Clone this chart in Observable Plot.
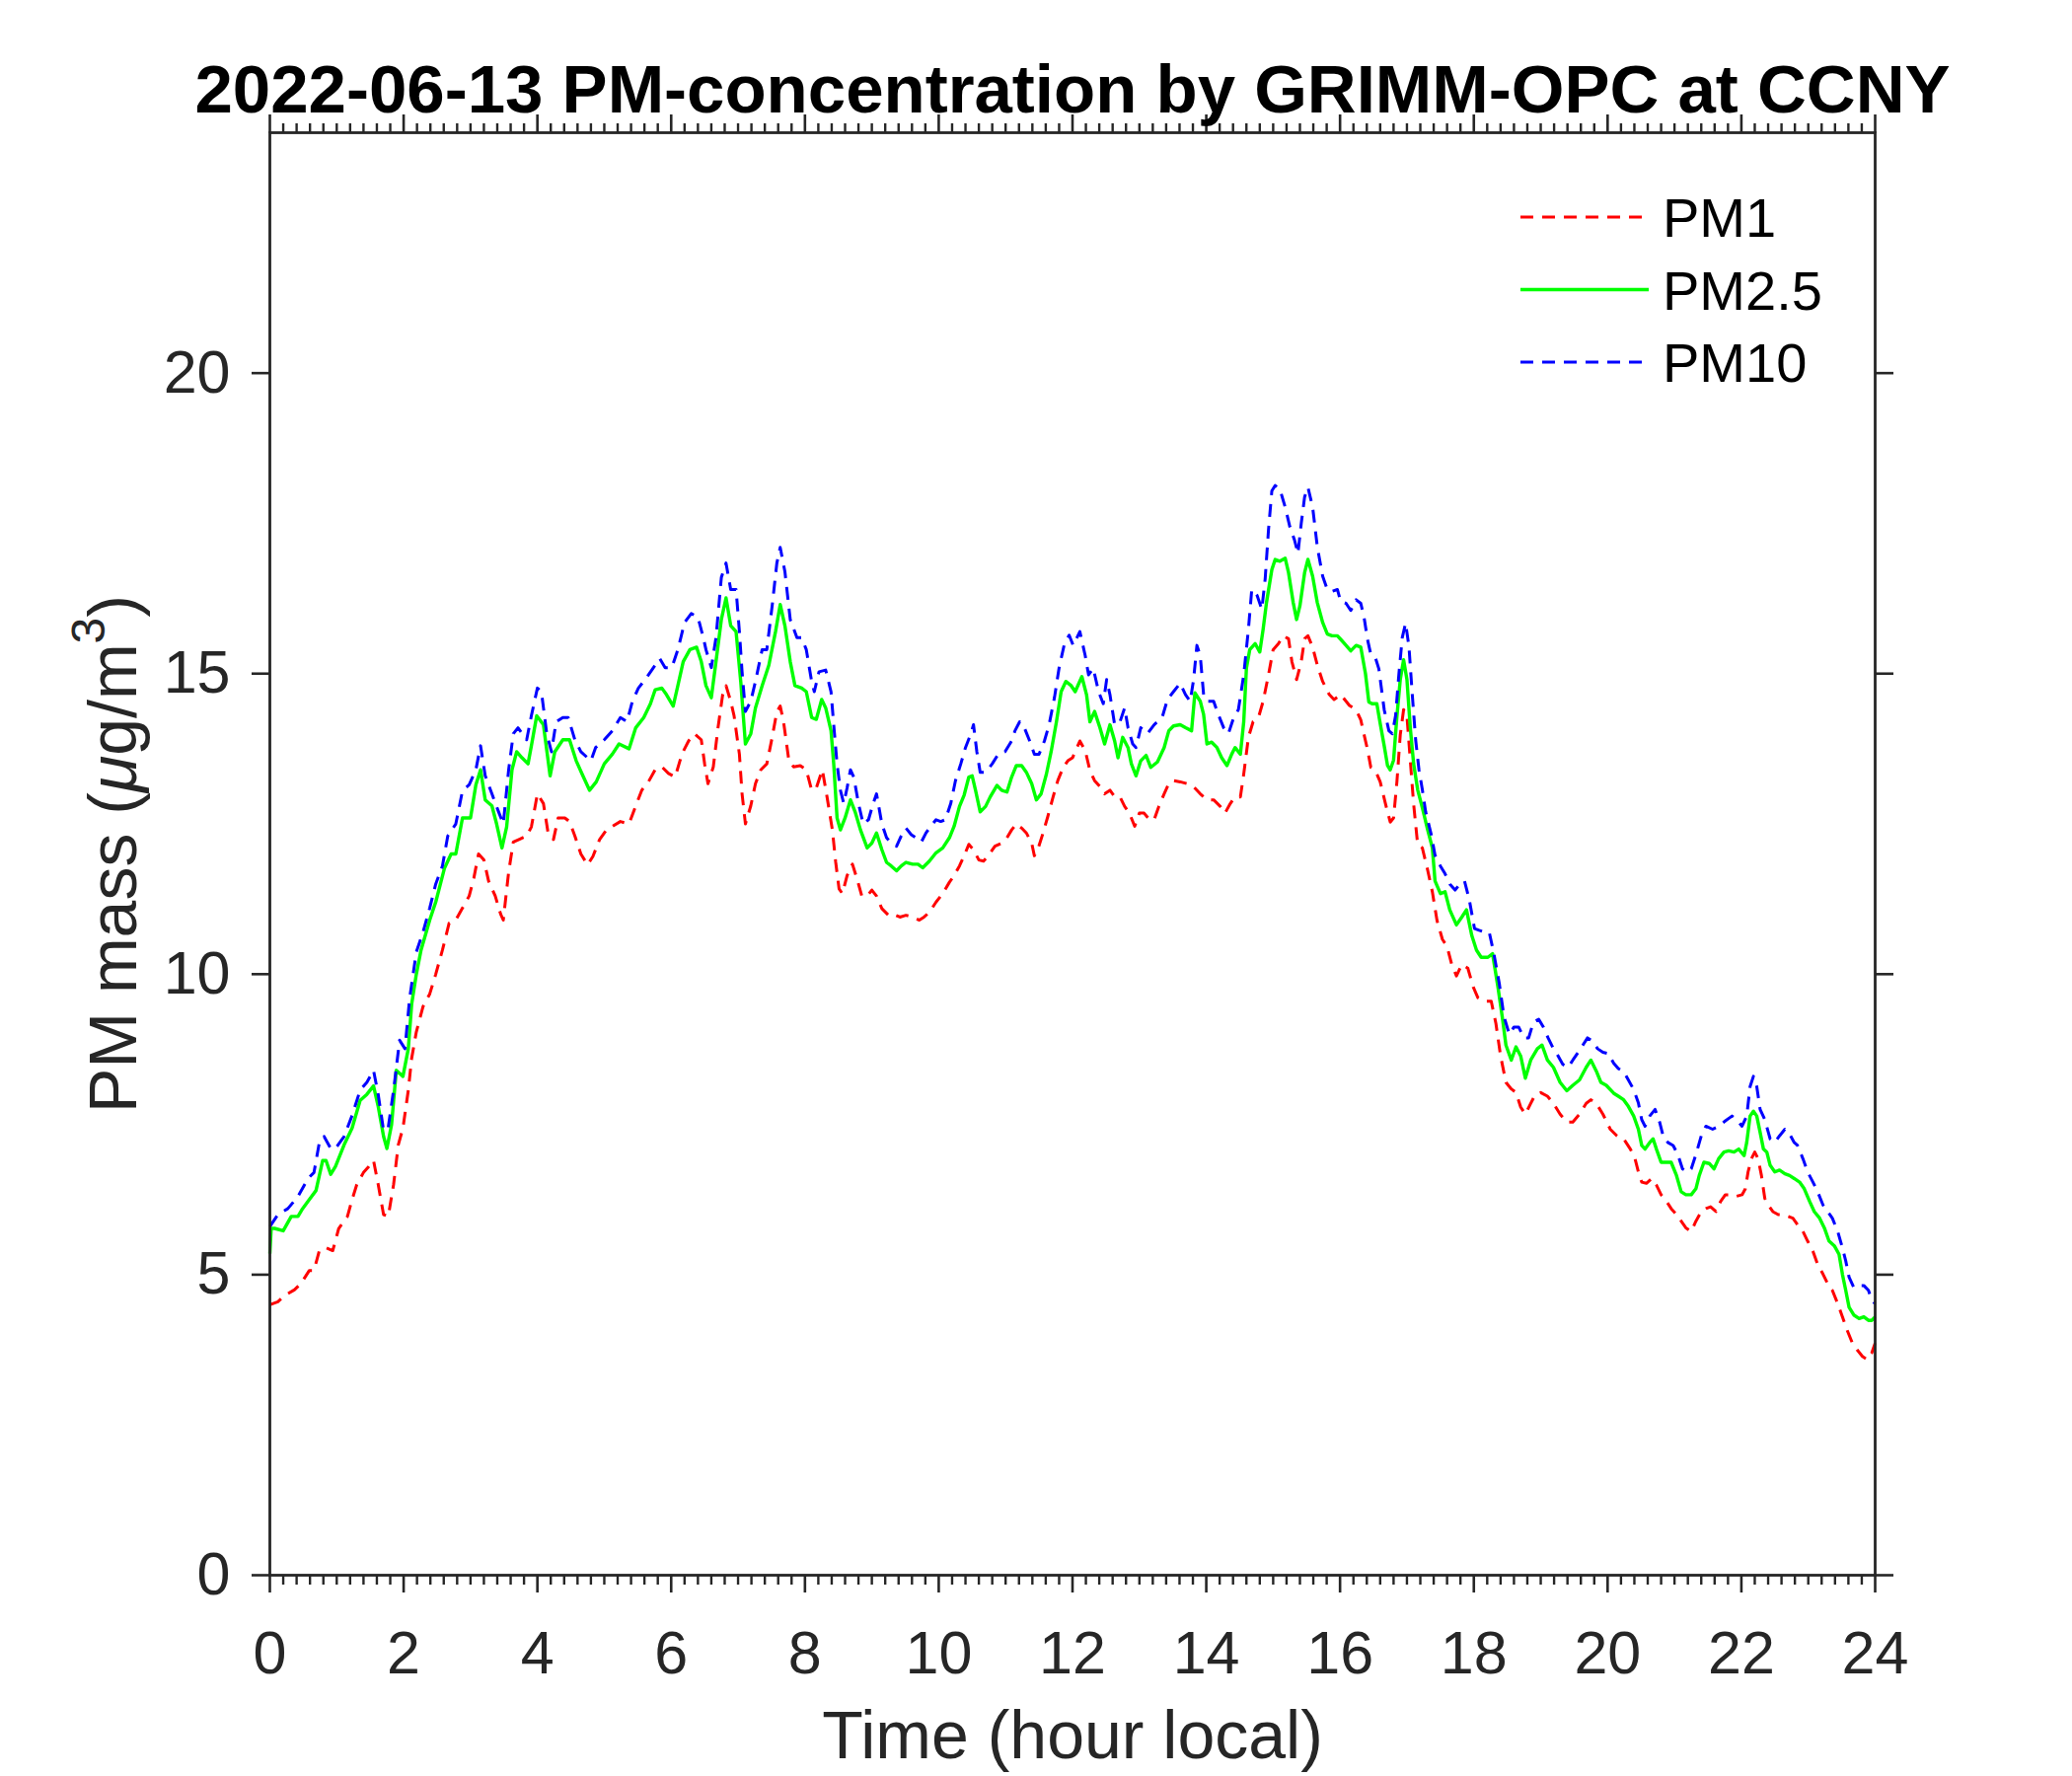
<!DOCTYPE html>
<html>
<head>
<meta charset="utf-8">
<script src="https://cdn.jsdelivr.net/npm/d3@7"></script>
<script src="https://cdn.jsdelivr.net/npm/@observablehq/plot@0.6"></script>
<style>
  html, body { margin: 0; padding: 0; background: #fff; overflow: hidden; }
  #chart svg { display: block; }
</style>
</head>
<body>
<div id="chart"></div>
<script>
// ---------------- data ----------------
const seriesNames = ["PM1", "PM2.5", "PM10"];

const pm1Hours = [0,0.12,0.22,0.37,0.47,0.59,0.66,0.74,0.84,0.94,1.03,1.16,1.23,1.3,1.4,1.48,1.55,1.62,1.7,1.77,1.85,1.92,1.99,2.07,2.12,2.19,2.29,2.39,2.48,2.58,2.68,2.78,2.88,2.98,3.05,3.12,3.2,3.27,3.37,3.45,3.49,3.57,3.64,3.74,3.84,3.91,4.0,4.09,4.16,4.24,4.31,4.41,4.48,4.56,4.65,4.75,4.83,4.93,5.02,5.12,5.24,5.37,5.47,5.56,5.66,5.76,5.86,5.96,6.06,6.16,6.26,6.35,6.45,6.5,6.55,6.63,6.7,6.77,6.82,6.89,6.94,7.02,7.06,7.11,7.19,7.26,7.34,7.43,7.51,7.58,7.63,7.68,7.76,7.83,7.93,8.02,8.1,8.17,8.26,8.33,8.41,8.46,8.51,8.56,8.63,8.71,8.78,8.85,8.93,9.0,9.07,9.15,9.25,9.32,9.42,9.51,9.61,9.71,9.78,9.86,9.96,10.06,10.16,10.23,10.31,10.38,10.45,10.52,10.6,10.67,10.74,10.84,10.94,11.02,11.09,11.16,11.24,11.31,11.39,11.43,11.48,11.56,11.63,11.71,11.78,11.86,11.93,12.0,12.11,12.19,12.26,12.33,12.41,12.48,12.56,12.63,12.71,12.78,12.85,12.93,13.0,13.07,13.15,13.22,13.29,13.37,13.44,13.51,13.61,13.71,13.81,13.91,14.01,14.11,14.21,14.28,14.36,14.43,14.51,14.56,14.63,14.7,14.78,14.85,14.93,15.0,15.08,15.15,15.23,15.28,15.35,15.42,15.47,15.52,15.59,15.66,15.74,15.84,15.91,16.01,16.14,16.24,16.31,16.36,16.41,16.46,16.53,16.6,16.68,16.75,16.8,16.85,16.9,16.95,17.0,17.05,17.1,17.16,17.23,17.31,17.38,17.45,17.53,17.6,17.67,17.74,17.82,17.91,17.99,18.06,18.16,18.26,18.33,18.4,18.48,18.56,18.63,18.7,18.77,18.85,18.92,19.0,19.1,19.19,19.29,19.39,19.48,19.58,19.68,19.75,19.83,19.93,20.04,20.14,20.24,20.34,20.41,20.46,20.51,20.58,20.66,20.73,20.8,20.88,20.95,21.03,21.1,21.17,21.25,21.32,21.4,21.47,21.54,21.62,21.69,21.76,21.84,21.91,22.01,22.06,22.1,22.15,22.2,22.25,22.3,22.35,22.4,22.47,22.55,22.62,22.7,22.77,22.84,22.92,22.99,23.07,23.14,23.22,23.29,23.36,23.44,23.51,23.58,23.66,23.73,23.81,23.88,23.95,24.0];
const pm1Values = [4.5,4.55,4.65,4.75,4.86,5.07,5.07,5.4,5.45,5.4,5.77,5.97,6.25,6.5,6.7,6.8,6.9,6.5,6.0,5.97,6.5,7.16,7.44,8.07,8.6,9.04,9.46,9.67,10.0,10.4,10.85,10.9,11.1,11.3,11.6,12.0,11.9,11.55,11.3,11.0,10.9,11.7,12.2,12.25,12.3,12.45,13.0,12.84,12.35,12.24,12.6,12.6,12.54,12.3,12.0,11.82,11.96,12.24,12.38,12.46,12.54,12.5,12.8,13.06,13.2,13.4,13.45,13.34,13.28,13.66,13.88,14.0,13.9,13.5,13.17,13.45,14.1,14.65,14.8,14.54,14.3,13.66,13.0,12.5,12.8,13.17,13.4,13.5,13.94,14.37,14.46,14.2,13.55,13.45,13.47,13.4,13.06,13.1,13.4,12.95,12.4,11.86,11.42,11.34,11.64,11.83,11.58,11.3,11.3,11.4,11.3,11.09,10.98,11.0,10.95,10.98,10.95,10.9,10.95,11.03,11.2,11.34,11.53,11.64,11.8,11.97,12.16,12.07,11.9,11.88,11.97,12.13,12.18,12.27,12.4,12.5,12.43,12.35,12.18,11.97,12.07,12.35,12.62,12.95,13.22,13.44,13.55,13.6,13.88,13.72,13.39,13.22,13.12,13.0,13.06,12.95,12.95,12.79,12.68,12.46,12.68,12.68,12.57,12.57,12.79,13.0,13.17,13.22,13.2,13.17,13.12,13.0,12.9,12.9,12.79,12.68,12.84,12.95,12.95,13.33,13.94,14.2,14.27,14.54,14.98,15.4,15.5,15.63,15.58,15.2,14.9,15.2,15.58,15.63,15.44,15.14,14.87,14.65,14.57,14.65,14.47,14.4,14.23,13.98,13.74,13.44,13.38,13.2,12.83,12.53,12.6,13.2,13.98,14.4,14.29,13.56,12.83,12.16,12.1,11.73,11.37,10.89,10.58,10.46,10.16,9.97,10.16,10.1,9.79,9.61,9.55,9.55,9.18,8.64,8.2,8.09,8.03,7.79,7.67,7.85,8.0,8.03,7.97,7.85,7.67,7.54,7.54,7.67,7.85,7.91,7.85,7.67,7.42,7.31,7.26,7.09,6.93,6.71,6.54,6.52,6.6,6.49,6.33,6.22,6.1,6.0,5.89,5.78,5.72,5.89,6.05,6.1,6.13,6.05,6.22,6.33,6.33,6.3,6.33,6.43,6.71,6.93,7.04,6.93,6.65,6.27,6.16,6.05,6.0,6.0,5.97,5.94,5.83,5.72,5.56,5.39,5.17,5.01,4.85,4.74,4.52,4.3,4.08,3.86,3.75,3.64,3.59,3.7,3.86];

const pm25Hours = [0,0.02,0.07,0.2,0.32,0.42,0.49,0.59,0.69,0.79,0.84,0.91,0.98,1.11,1.23,1.35,1.45,1.55,1.62,1.7,1.75,1.82,1.89,1.99,2.07,2.12,2.19,2.26,2.39,2.48,2.61,2.71,2.78,2.88,3.0,3.08,3.15,3.22,3.32,3.39,3.47,3.54,3.62,3.69,3.77,3.86,3.91,3.99,4.09,4.19,4.26,4.38,4.48,4.58,4.68,4.78,4.88,5.0,5.12,5.22,5.37,5.47,5.59,5.69,5.76,5.86,5.93,6.03,6.1,6.18,6.28,6.38,6.45,6.52,6.6,6.67,6.75,6.82,6.89,6.97,7.04,7.11,7.19,7.26,7.36,7.46,7.56,7.63,7.7,7.78,7.85,7.95,8.02,8.1,8.17,8.25,8.31,8.39,8.43,8.48,8.53,8.6,8.68,8.75,8.83,8.93,9.0,9.07,9.15,9.22,9.29,9.37,9.44,9.51,9.61,9.69,9.76,9.86,9.96,10.06,10.16,10.23,10.31,10.38,10.45,10.5,10.55,10.62,10.7,10.77,10.87,10.94,11.02,11.09,11.16,11.24,11.31,11.39,11.46,11.53,11.61,11.68,11.76,11.83,11.9,11.98,12.04,12.14,12.21,12.26,12.33,12.41,12.48,12.56,12.63,12.68,12.75,12.83,12.88,12.95,13.02,13.1,13.17,13.27,13.37,13.44,13.51,13.61,13.69,13.78,13.83,13.91,13.96,14.01,14.08,14.16,14.23,14.31,14.38,14.43,14.51,14.56,14.6,14.65,14.73,14.8,14.85,14.9,14.98,15.03,15.1,15.18,15.23,15.3,15.35,15.4,15.47,15.52,15.59,15.66,15.74,15.81,15.88,15.96,16.01,16.09,16.16,16.24,16.31,16.38,16.43,16.48,16.55,16.6,16.66,16.71,16.75,16.8,16.85,16.9,16.95,17.0,17.05,17.1,17.16,17.23,17.31,17.38,17.42,17.5,17.57,17.64,17.74,17.82,17.89,17.97,18.04,18.11,18.21,18.28,18.36,18.43,18.48,18.56,18.63,18.7,18.77,18.85,18.95,19.02,19.1,19.19,19.29,19.39,19.48,19.58,19.68,19.75,19.83,19.9,19.98,20.09,20.16,20.24,20.31,20.39,20.46,20.51,20.56,20.63,20.68,20.73,20.8,20.88,20.95,21.03,21.1,21.17,21.25,21.32,21.37,21.44,21.52,21.59,21.66,21.74,21.81,21.89,21.96,22.04,22.08,22.13,22.18,22.23,22.28,22.33,22.38,22.43,22.5,22.57,22.65,22.72,22.79,22.87,22.94,23.02,23.09,23.17,23.24,23.31,23.39,23.46,23.51,23.56,23.61,23.68,23.76,23.83,23.9,23.95,24.0];
const pm25Values = [5.35,5.77,5.77,5.73,5.97,5.97,6.1,6.25,6.4,6.9,6.9,6.67,6.8,7.16,7.44,7.9,8.0,8.14,7.8,7.3,7.1,7.5,8.4,8.3,8.76,9.5,10.0,10.4,10.9,11.2,11.76,12.0,12.0,12.6,12.6,13.15,13.4,12.9,12.8,12.5,12.1,12.45,13.4,13.7,13.6,13.5,13.8,14.3,14.15,13.3,13.7,13.9,13.9,13.55,13.3,13.06,13.2,13.5,13.66,13.83,13.75,14.1,14.27,14.5,14.73,14.76,14.65,14.46,14.8,15.2,15.4,15.44,15.2,14.8,14.6,15.2,15.9,16.26,15.8,15.7,14.87,13.83,14.0,14.43,14.8,15.14,15.7,16.15,15.8,15.2,14.8,14.76,14.7,14.27,14.24,14.57,14.43,14.05,13.5,12.6,12.4,12.6,12.9,12.7,12.4,12.1,12.18,12.35,12.07,11.86,11.8,11.72,11.8,11.86,11.83,11.83,11.77,11.88,12.02,12.1,12.27,12.46,12.79,12.98,13.28,13.3,13.06,12.7,12.79,12.95,13.14,13.06,13.03,13.28,13.47,13.47,13.36,13.17,12.9,13.0,13.33,13.7,14.2,14.7,14.87,14.8,14.7,14.95,14.65,14.2,14.37,14.1,13.83,14.15,13.88,13.6,13.94,13.77,13.5,13.3,13.55,13.64,13.44,13.53,13.77,14.05,14.13,14.15,14.1,14.05,14.68,14.54,14.32,13.83,13.86,13.77,13.6,13.47,13.66,13.77,13.66,14.2,15.09,15.4,15.5,15.36,15.74,16.18,16.73,16.9,16.87,16.92,16.68,16.18,15.9,16.13,16.68,16.9,16.62,16.18,15.85,15.66,15.63,15.63,15.57,15.47,15.38,15.47,15.44,15.0,14.53,14.5,14.5,14.17,13.8,13.47,13.4,13.56,14.29,14.9,15.23,14.9,14.1,13.5,13.07,12.77,12.4,12.1,11.55,11.34,11.37,11.07,10.82,10.95,11.07,10.64,10.4,10.28,10.28,10.34,9.79,9.25,8.82,8.57,8.79,8.64,8.27,8.57,8.76,8.82,8.57,8.45,8.2,8.06,8.15,8.24,8.45,8.57,8.39,8.2,8.15,8.02,7.97,7.91,7.8,7.64,7.42,7.15,7.09,7.2,7.26,7.09,6.87,6.87,6.87,6.65,6.38,6.33,6.33,6.43,6.65,6.87,6.85,6.76,6.93,7.04,7.06,7.04,7.09,6.98,7.2,7.64,7.72,7.64,7.37,7.09,7.04,6.82,6.71,6.74,6.68,6.65,6.6,6.54,6.43,6.22,6.05,5.94,5.78,5.56,5.48,5.34,5.01,4.74,4.46,4.33,4.27,4.3,4.24,4.24,4.3];

const pm10Hours = [0,0.12,0.27,0.42,0.57,0.66,0.74,0.81,0.91,0.98,1.11,1.23,1.35,1.45,1.55,1.62,1.7,1.77,1.85,1.94,2.02,2.09,2.19,2.29,2.39,2.48,2.58,2.66,2.78,2.88,2.98,3.08,3.15,3.22,3.32,3.42,3.49,3.57,3.64,3.71,3.84,3.91,4.0,4.06,4.14,4.21,4.28,4.38,4.46,4.56,4.65,4.75,4.8,4.87,5.0,5.12,5.24,5.34,5.42,5.51,5.61,5.71,5.83,5.91,6.01,6.1,6.2,6.3,6.4,6.48,6.52,6.6,6.67,6.75,6.82,6.89,6.97,7.02,7.06,7.11,7.19,7.26,7.36,7.43,7.51,7.58,7.63,7.7,7.78,7.88,7.95,8.02,8.1,8.14,8.21,8.31,8.39,8.43,8.48,8.53,8.58,8.63,8.68,8.73,8.8,8.87,8.95,9.02,9.07,9.15,9.22,9.29,9.37,9.44,9.51,9.59,9.66,9.74,9.81,9.88,9.96,10.03,10.1,10.18,10.25,10.33,10.4,10.48,10.52,10.57,10.62,10.7,10.8,10.89,10.99,11.09,11.14,11.21,11.28,11.36,11.43,11.5,11.58,11.65,11.73,11.8,11.88,11.95,12.01,12.11,12.19,12.24,12.31,12.39,12.46,12.51,12.56,12.63,12.71,12.78,12.83,12.9,12.95,13.02,13.12,13.22,13.34,13.42,13.51,13.61,13.69,13.76,13.81,13.86,13.91,13.96,14.01,14.11,14.18,14.26,14.33,14.41,14.48,14.56,14.63,14.68,14.76,14.83,14.88,14.93,14.98,15.03,15.1,15.18,15.25,15.32,15.37,15.42,15.47,15.52,15.59,15.66,15.74,15.81,15.88,15.96,16.01,16.09,16.16,16.24,16.31,16.36,16.41,16.46,16.53,16.58,16.66,16.73,16.78,16.83,16.88,16.93,16.98,17.03,17.08,17.13,17.18,17.23,17.28,17.36,17.42,17.5,17.57,17.64,17.72,17.79,17.86,17.93,18.01,18.08,18.16,18.23,18.3,18.38,18.45,18.53,18.6,18.67,18.75,18.82,18.89,18.97,19.04,19.11,19.19,19.26,19.33,19.41,19.48,19.56,19.63,19.7,19.78,19.85,19.93,20.01,20.09,20.16,20.24,20.31,20.39,20.46,20.51,20.56,20.63,20.71,20.78,20.83,20.9,20.98,21.05,21.12,21.2,21.25,21.32,21.4,21.47,21.57,21.66,21.76,21.86,21.93,22.01,22.08,22.13,22.18,22.23,22.28,22.35,22.43,22.5,22.57,22.65,22.72,22.79,22.84,22.92,22.99,23.07,23.14,23.22,23.29,23.36,23.44,23.51,23.56,23.61,23.68,23.76,23.83,23.9,23.95,24.0];
const pm10Values = [5.8,6.0,6.1,6.3,6.6,6.7,7.2,7.3,7.1,7.1,7.3,7.65,8.07,8.2,8.4,8.0,7.4,7.45,8.07,8.9,8.76,9.6,10.37,10.7,11.1,11.5,11.8,12.3,12.5,13.05,13.15,13.4,13.8,13.3,13.0,12.7,12.5,13.4,14.0,14.1,13.9,14.3,14.76,14.7,14.0,13.7,14.2,14.27,14.27,13.9,13.7,13.6,13.55,13.77,13.9,14.05,14.27,14.2,14.54,14.76,14.9,15.06,15.25,15.1,15.1,15.4,15.85,16.0,15.94,15.6,15.4,15.1,15.6,16.6,16.84,16.4,16.4,15.7,15.03,14.37,14.54,14.87,15.4,15.4,16.13,16.84,17.1,16.7,15.9,15.6,15.6,15.4,14.87,14.7,15.03,15.06,14.7,14.15,13.5,13.06,12.84,13.1,13.4,13.28,12.84,12.5,12.57,12.84,13.0,12.5,12.27,12.18,12.13,12.3,12.43,12.32,12.27,12.2,12.35,12.46,12.57,12.54,12.57,12.84,13.22,13.5,13.77,14.0,14.15,13.7,13.36,13.36,13.5,13.66,13.7,13.88,14.05,14.2,14.1,13.88,13.66,13.66,13.88,14.15,14.6,15.1,15.5,15.64,15.47,15.7,15.3,14.98,15.09,14.7,14.5,14.9,14.65,14.15,14.2,14.43,14.1,13.83,13.77,14.1,14.0,14.15,14.27,14.57,14.7,14.84,14.65,14.54,14.9,15.47,15.3,14.65,14.54,14.54,14.32,14.1,14.0,14.27,14.4,14.98,15.74,16.4,16.3,16.07,16.57,17.39,18.04,18.13,18.07,17.77,17.44,17.22,17.0,17.5,17.94,18.1,17.77,17.11,16.62,16.4,16.37,16.4,16.2,16.17,16.05,16.23,16.17,15.93,15.57,15.32,15.26,15.08,14.4,14.05,14.0,14.3,15.0,15.6,15.84,15.45,14.65,13.9,13.4,13.07,12.7,12.34,11.98,11.8,11.67,11.5,11.4,11.5,11.55,11.25,10.76,10.73,10.7,10.7,10.34,9.85,9.3,9.0,9.12,9.12,8.94,8.94,9.2,9.25,9.12,8.94,8.76,8.64,8.5,8.45,8.57,8.7,8.82,8.94,8.88,8.76,8.7,8.68,8.52,8.43,8.38,8.24,8.08,7.86,7.58,7.47,7.64,7.75,7.53,7.31,7.2,7.15,7.0,6.76,6.71,6.76,7.0,7.31,7.47,7.42,7.47,7.56,7.64,7.58,7.47,7.64,8.13,8.3,8.13,7.75,7.58,7.26,7.2,7.31,7.42,7.34,7.2,7.15,6.93,6.71,6.54,6.38,6.16,6.05,5.94,5.72,5.45,5.23,4.96,4.79,4.82,4.82,4.74,4.57,4.52];

const xMajorTicks = [0, 2, 4, 6, 8, 10, 12, 14, 16, 18, 20, 22, 24];
const yMajorTicks = [0, 5, 10, 15, 20];
const xMinorStep = 0.2;
const titleText = "2022-06-13 PM-concentration by GRIMM-OPC at CCNY";
const xLabelText = "Time (hour local)";
const yLabelText = "PM mass (μg/m3)";

// ---------------- styling ----------------
const FONT = "'Liberation Sans', Arial, Helvetica, sans-serif";
const AXIS = "#262626";
const colors = { "PM1": "#ff0000", "PM2.5": "#00ff00", "PM10": "#0000ff" };
const dashes = { "PM1": "13,9", "PM2.5": null, "PM10": "13,9" };
const widths = { "PM1": 3, "PM2.5": 3.4, "PM10": 3 };

const toRows = (name, hs, vs) => hs.map((h, i) => ({ series: name, hour: h, value: vs[i] }));
const tables = {
  "PM1": toRows("PM1", pm1Hours, pm1Values),
  "PM2.5": toRows("PM2.5", pm25Hours, pm25Values),
  "PM10": toRows("PM10", pm10Hours, pm10Values)
};
const xMinorTicks = d3.range(0, 121).map(i => i * xMinorStep).filter((t, i) => i % 10 !== 0);

const W = 2100, H = 1800;
const chart = Plot.plot({
  width: W, height: H,
  marginLeft: 273, marginRight: 200, marginTop: 134, marginBottom: 204,
  style: { fontFamily: FONT, background: "#fff", color: AXIS, overflow: "visible" },
  x: { domain: [0, 24] },
  y: { domain: [0, 24] },
  marks: [
    // data lines
    ...seriesNames.map(name => Plot.line(tables[name], {
      x: "hour", y: "value", stroke: colors[name], strokeWidth: widths[name],
      strokeDasharray: dashes[name] ?? undefined, strokeLinejoin: "round", strokeLinecap: "butt"
    })),
    // box
    Plot.frame({ stroke: AXIS, strokeWidth: 2.8 }),
    // bottom axis
    Plot.axisX({ anchor: "bottom", ticks: xMajorTicks, tickSize: 18, tickPadding: 38, fontSize: 61,
      tickFormat: d => String(d), label: null, stroke: AXIS, strokeWidth: 2.6, fill: AXIS }),
    Plot.axisX({ anchor: "bottom", ticks: xMinorTicks, tickSize: 10, tickFormat: () => "", label: null,
      stroke: AXIS, strokeWidth: 2.4 }),
    // top axis
    Plot.axisX({ anchor: "top", ticks: xMajorTicks, tickSize: 19, tickFormat: () => "", label: null,
      stroke: AXIS, strokeWidth: 2.6 }),
    Plot.axisX({ anchor: "top", ticks: xMinorTicks, tickSize: 10, tickFormat: () => "", label: null,
      stroke: AXIS, strokeWidth: 2.4 }),
    // left / right axes
    Plot.axisY({ anchor: "left", ticks: yMajorTicks, tickSize: 18, tickPadding: 22, fontSize: 61,
      tickFormat: d => String(d), label: null, stroke: AXIS, strokeWidth: 2.6, fill: AXIS }),
    Plot.axisY({ anchor: "right", ticks: yMajorTicks, tickSize: 18, tickFormat: () => "", label: null,
      stroke: AXIS, strokeWidth: 2.6 }),
    // title and axis labels
    Plot.text([titleText], { text: d => d, frameAnchor: "top", dy: -43, lineAnchor: "middle",
      textAnchor: "middle", fontSize: 69, fontWeight: "bold", fill: "#000" }),
    Plot.text([xLabelText], { text: d => d, frameAnchor: "bottom", dy: 164, lineAnchor: "middle",
      textAnchor: "middle", fontSize: 68, fill: AXIS }),
    Plot.text([yLabelText], { text: d => d, frameAnchor: "left", dx: -157, rotate: -90, lineAnchor: "middle",
      textAnchor: "middle", fontSize: 68, fill: AXIS })
  ]
});
document.getElementById("chart").appendChild(chart);

// y label: italic mu and superscript 3 (TeX-like)
const svg = d3.select(chart);
svg.selectAll("text").filter(function () { return this.textContent === yLabelText; }).each(function () {
  const t = d3.select(this);
  t.text(null);
  t.append("tspan").text("PM mass (");
  t.append("tspan").attr("font-style", "italic").text("μ");
  t.append("tspan").text("g/m");
  t.append("tspan").attr("font-size", 48).attr("dy", -32).text("3");
  t.append("tspan").attr("dy", 32).text(")");
});

// legend (no box), top-right inside axes
const legend = svg.append("g").attr("font-family", FONT).attr("font-size", 56)
  .attr("fill", "#000").attr("text-anchor", "start");
const legX0 = 1541, legX1 = 1671, legTextX = 1685, legY0 = 220, legStep = 73.5;
seriesNames.forEach((name, i) => {
  const y = legY0 + i * legStep;
  legend.append("line").attr("x1", legX0).attr("x2", legX1).attr("y1", y).attr("y2", y)
    .attr("stroke", colors[name]).attr("stroke-width", widths[name])
    .attr("stroke-dasharray", dashes[name]);
  legend.append("text").attr("x", legTextX).attr("y", y).attr("dy", "0.36em")
    .attr("text-anchor", "start").text(name);
});
</script>
</body>
</html>
